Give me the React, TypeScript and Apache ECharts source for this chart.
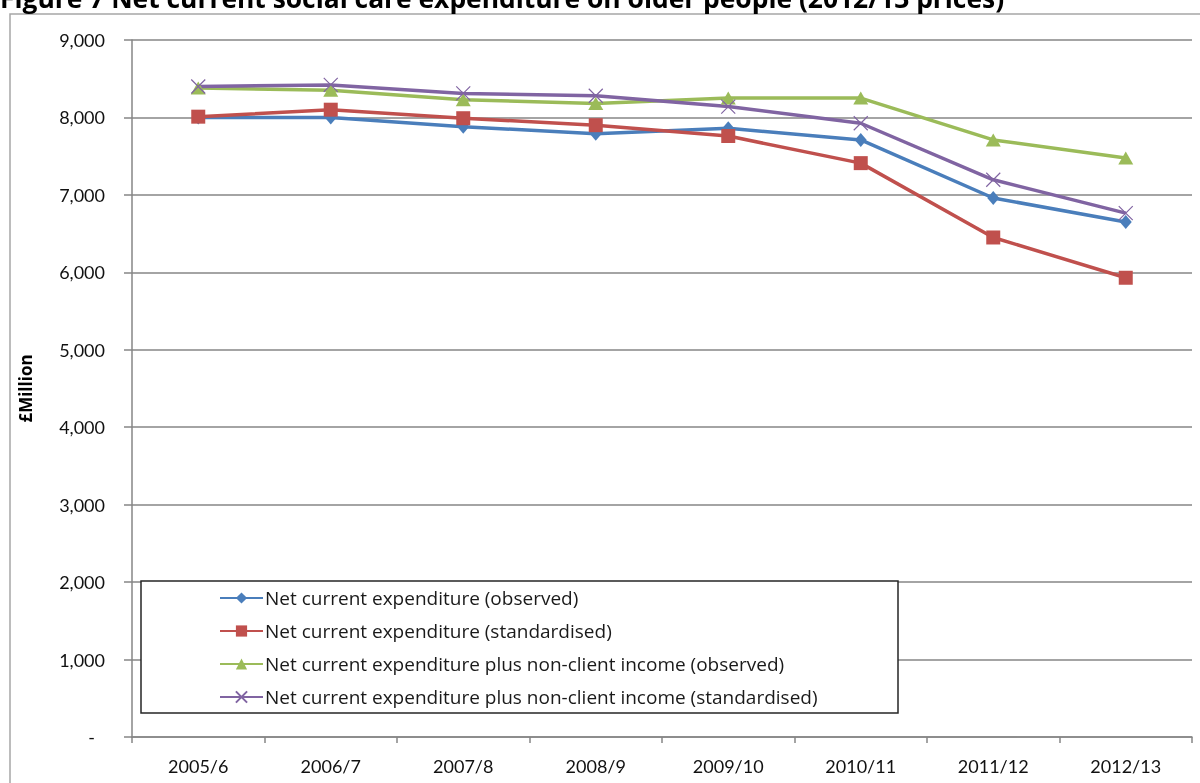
import React, { useEffect, useRef } from "react";
import * as echarts from "echarts";

const categories = ["2005/6", "2006/7", "2007/8", "2008/9", "2009/10", "2010/11", "2011/12", "2012/13"];
const observed = [8000, 8000, 7880, 7790, 7860, 7710, 6960, 6650];
const standardised = [8010, 8100, 7990, 7900, 7760, 7410, 6450, 5930];
const plusObserved = [8380, 8350, 8230, 8180, 8250, 8250, 7710, 7475];
const plusStandardised = [8400, 8420, 8310, 8280, 8140, 7925, 7195, 6765];

const seriesNames = [
  "Net current expenditure (observed)",
  "Net current expenditure (standardised)",
  "Net current expenditure plus non-client income (observed)",
  "Net current expenditure plus non-client income (standardised)",
];
const colors = ["#4A7EBB", "#C0504D", "#9BBB59", "#8064A2"];
const titleText = "Figure 7 Net current social care expenditure on older people (2012/13 prices)";
const yTicks = { min: 0, max: 9000, interval: 1000 };

const FONT = "Lato, 'Noto Sans', sans-serif";
const WIDE = "'Open Sans', 'Noto Sans', sans-serif";

export default function App() {
  const ref = useRef<HTMLDivElement>(null);
  useEffect(() => {
    if (!ref.current) return;
    const chart = echarts.init(ref.current, null, { renderer: "svg" });
    const mk = (i: number, data: number[], symbol: string, size: number | number[], extra: any = {}) => ({
      name: seriesNames[i],
      type: "line",
      data,
      symbol,
      symbolSize: size,
      showSymbol: true,
      lineStyle: { color: colors[i], width: 3.5 },
      itemStyle: { color: colors[i], ...extra },
      emphasis: { disabled: true },
    });
    chart.setOption({
      animation: false,
      textStyle: { fontFamily: FONT },
      graphic: [
        {
          type: "rect",
          shape: { x: 10, y: 14, width: 1200, height: 800 },
          style: { fill: "none", stroke: "#a6a6a6", lineWidth: 1.5 },
          silent: true,
        },
        {
          type: "text",
          x: 0,
          y: -2,
          style: {
            text: titleText,
            font: `bold 26.4px ${WIDE}`,
            fill: "#000",
            verticalAlign: "middle",
          },
        },
        {
          type: "rect",
          shape: { x: 141, y: 581, width: 757, height: 132 },
          style: { fill: "#fff", stroke: "#262626", lineWidth: 1.5 },
          z: 5,
          silent: true,
        },
      ],
      grid: { left: 132, right: 8, top: 40, bottom: 46 },
      legend: {
        orient: "vertical",
        left: 219,
        top: 588.5,
        itemWidth: 43,
        itemHeight: 14,
        itemGap: 14,
        z: 10,
        padding: 0,
        selectedMode: false,
        textStyle: { fontFamily: WIDE, fontSize: 19, color: "#1a1a1a", padding: [0, 0, 0, -3] },
        data: seriesNames,
      },
      xAxis: {
        type: "category",
        data: categories,
        boundaryGap: true,
        axisLine: { lineStyle: { color: "#868686", width: 1.5 } },
        axisTick: { show: true, length: 6, lineStyle: { color: "#868686", width: 1.5 } },
        axisLabel: { fontFamily: FONT, fontSize: 18, color: "#111", margin: 20 },
      },
      yAxis: {
        type: "value",
        min: yTicks.min,
        max: yTicks.max,
        interval: yTicks.interval,
        name: "£Million",
        nameLocation: "middle",
        nameRotate: 90,
        nameGap: 98,
        nameTextStyle: { fontFamily: WIDE, fontSize: 17, fontWeight: "bold", color: "#000" },
        axisLine: { show: true, lineStyle: { color: "#868686", width: 1.5 } },
        axisTick: { show: true, length: 8, lineStyle: { color: "#868686", width: 1.5 } },
        splitLine: { show: true, lineStyle: { color: "#868686", width: 1.5 } },
        axisLabel: {
          fontFamily: FONT,
          fontSize: 18,
          color: "#111",
          margin: 27,
          formatter: (v: number) => (v === 0 ? "{d|-}" : v.toLocaleString("en-GB")),
          rich: { d: { fontFamily: FONT, fontSize: 18, color: "#111", padding: [0, 10, 0, 0] } },
        },
      },
      series: [
        mk(0, observed, "diamond", [12, 14]),
        mk(1, standardised, "rect", 14),
        mk(2, plusObserved, "triangle", [15, 13]),
        mk(3, plusStandardised, "path://M0,0L10,10M10,0L0,10", 14, {
          borderColor: colors[3],
          borderWidth: 1.2,
        }),
      ],
    });
    return () => chart.dispose();
  }, []);
  return <div ref={ref} style={{ position: "fixed", left: 0, top: 0, width: 1200, height: 783 }} />;
}
